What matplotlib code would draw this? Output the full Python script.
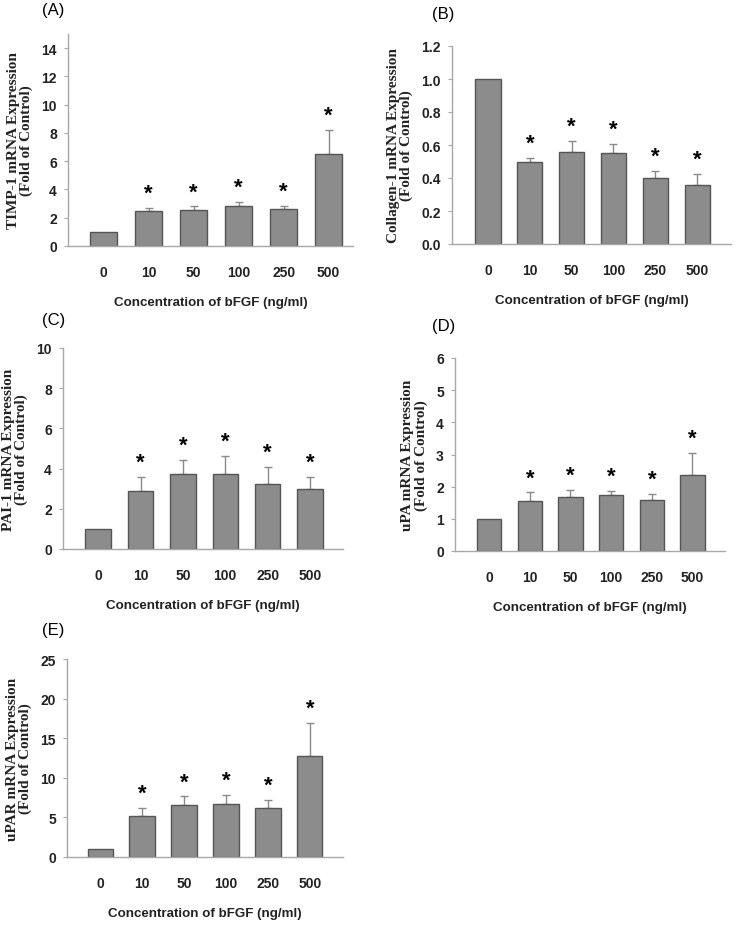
import numpy as np
import matplotlib
matplotlib.use("Agg")
import matplotlib.pyplot as plt

conc = ["0", "10", "50", "100", "250", "500"]

timp1 = [1.0, 2.5, 2.55, 2.8, 2.6, 6.5]
timp1_err = [0.0, 0.22, 0.25, 0.3, 0.25, 1.7]
col1 = [1.0, 0.50, 0.56, 0.55, 0.40, 0.355]
col1_err = [0.0, 0.022, 0.062, 0.055, 0.045, 0.07]
pai1 = [1.0, 2.9, 3.72, 3.75, 3.25, 2.97]
pai1_err = [0.0, 0.7, 0.73, 0.9, 0.85, 0.63]
upa = [1.0, 1.55, 1.67, 1.75, 1.57, 2.35]
upa_err = [0.0, 0.27, 0.23, 0.13, 0.21, 0.7]
upar = [1.0, 5.15, 6.6, 6.65, 6.15, 12.75]
upar_err = [0.0, 1.1, 1.05, 1.2, 1.05, 4.15]
signif = [False, True, True, True, True, True]

W, H = 738, 929
fig = plt.figure(figsize=(W / 100, H / 100), dpi=100)

bar_col = "#8c8c8c"
edge_col = "#555555"
axis_col = "#a8a8a8"


def panel(px, letter, lab_xy, vals, errs, ylabel, ylim, yticks, yfmt, xlim):
    # px = (left, top, right, bottom) of the axes in pixels
    l, t, r, b = px
    ax = fig.add_axes([l / W, 1 - b / H, (r - l) / W, (b - t) / H])
    x = np.arange(len(conc))
    ax.bar(x, vals, width=0.6, color=bar_col, edgecolor=edge_col, linewidth=1.0, zorder=2)
    for xi, v, e, s in zip(x, vals, errs, signif):
        if e > 0:
            ax.errorbar(xi, v, yerr=[[0], [e]], fmt="none", ecolor="#8a8a8a",
                        elinewidth=1.0, capsize=3, capthick=1.0, zorder=1)
        if s:
            ax.annotate("*", (xi, v + e), xytext=(0, 3), textcoords="offset points",
                        ha="center", va="bottom", fontsize=16, fontweight="bold",
                        family="Liberation Sans")
    ax.set_xlim(*xlim)
    ax.set_ylim(*ylim)
    ax.set_xticks(x)
    ax.set_xticklabels(conc)
    ax.set_yticks(yticks)
    ax.set_yticklabels([yfmt.format(v) for v in yticks])
    for lbl in ax.get_xticklabels() + ax.get_yticklabels():
        lbl.set_fontweight("bold")
        lbl.set_fontfamily("Liberation Sans")
        lbl.set_fontsize(10)
        lbl.set_color("#222222")
    ax.tick_params(axis="x", length=0, pad=14)
    ax.tick_params(axis="y", length=3, width=0.8, color=axis_col, pad=5, direction="out")
    for sp in ["top", "right"]:
        ax.spines[sp].set_visible(False)
    for sp in ["left", "bottom"]:
        ax.spines[sp].set_color(axis_col)
        ax.spines[sp].set_linewidth(1.0)
    ax.set_xlabel("Concentration of bFGF (ng/ml)", fontsize=9.6, fontweight="bold",
                  family="Liberation Sans", labelpad=12, color="#222222")
    ax.set_ylabel(ylabel, fontsize=11, fontweight="bold", family="Liberation Serif",
                  linespacing=1.0, color="#222222", labelpad=6)
    fig.text(lab_xy[0] / W, 1 - lab_xy[1] / H, letter, fontsize=12,
             family="Liberation Sans", ha="left", va="center")
    return ax


panel((68, 35, 353, 247), "(A)", (42, 11), timp1, timp1_err,
      "TIMP-1 mRNA Expression\n(Fold of Control)", (0, 15), np.arange(0, 15, 2),
      "{:.0f}", (-0.79, 5.54))
panel((452, 47, 731, 245), "(B)", (432, 15), col1, col1_err,
      "Collagen-1 mRNA Expression\n(Fold of Control)", (0, 1.2),
      np.round(np.arange(0, 1.21, 0.2), 1), "{:.1f}", (-0.86, 5.81))
panel((63, 349, 343, 550), "(C)", (42, 320), pai1, pai1_err,
      "PAI-1 mRNA Expression\n(Fold of Control)", (0, 10), np.arange(0, 11, 2),
      "{:.0f}", (-0.83, 5.78))
panel((455, 359, 725, 552), "(D)", (432, 327), upa, upa_err,
      "uPA mRNA Expression\n(Fold of Control)", (0, 6), np.arange(0, 7, 1),
      "{:.0f}", (-0.84, 5.8))
panel((67, 660, 343, 858), "(E)", (42, 631), upar, upar_err,
      "uPAR mRNA Expression\n(Fold of Control)", (0, 25), np.arange(0, 26, 5),
      "{:.0f}", (-0.79, 5.79))

fig.savefig("out.png", dpi=100, facecolor="white")
